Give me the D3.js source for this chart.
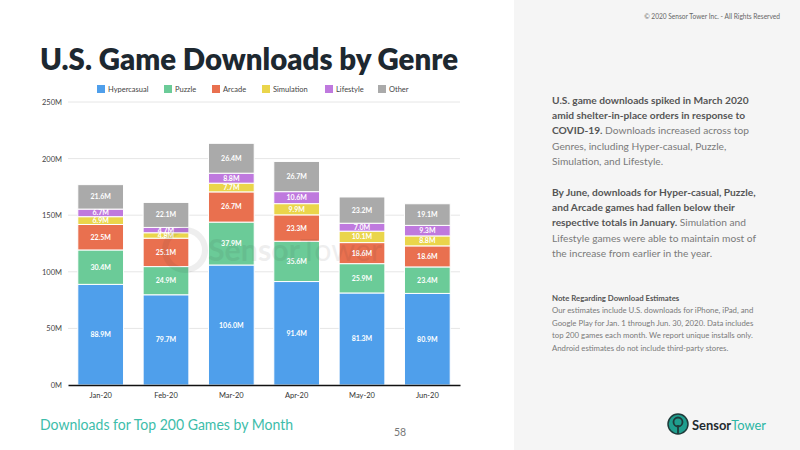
<!DOCTYPE html>
<html><head><meta charset="utf-8">
<script src="https://cdn.jsdelivr.net/npm/d3@7"></script>
<style>
body{margin:0;background:#fff;}
svg{display:block;font-family:Lato,"Open Sans",sans-serif;}
</style></head><body>
<svg id="c" width="800" height="450"></svg>
<script>
const months = ["Jan-20","Feb-20","Mar-20","Apr-20","May-20","Jun-20"];
const genres = ["Hypercasual","Puzzle","Arcade","Simulation","Lifestyle","Other"];
const colors = ["#4f9feb","#6bcb98","#e9704f","#ead54b","#bf79de","#aaaaaa"];
const hypercasual = [88.9,79.7,106.0,91.4,81.3,80.9];
const puzzle = [30.4,24.9,37.9,35.6,25.9,23.4];
const arcade = [22.5,25.1,26.7,23.3,18.6,18.6];
const simulation = [6.9,4.8,7.7,9.9,10.1,8.8];
const lifestyle = [6.7,4.7,8.8,10.6,7.0,9.3];
const other = [21.6,22.1,26.4,26.7,23.2,19.1];
const yTicks = [0,50,100,150,200,250];

const seriesVals = [hypercasual,puzzle,arcade,simulation,lifestyle,other];
const rows = months.map((m,i)=>{const r={month:m};genres.forEach((g,j)=>r[g]=seriesVals[j][i]);return r;});
const stack = d3.stack().keys(genres)(rows);

const svg = d3.select("#c");
// right panel
svg.append("rect").attr("x",514).attr("y",0).attr("width",286).attr("height",450).attr("fill","#f5f5f5");
svg.append("text").attr("x",780).attr("y",19).attr("text-anchor","end").attr("font-size",6.6).attr("fill","#666").text("© 2020 Sensor Tower Inc. - All Rights Reserved");

// title
svg.append("text").attr("x",40).attr("y",70).attr("font-size",31).attr("font-weight",800).attr("fill","#1d2830")
  .attr("textLength",418).attr("lengthAdjust","spacingAndGlyphs").text("U.S. Game Downloads by Genre");

const x = d3.scaleBand().domain(months).range([68,460]).paddingInner(0.3).paddingOuter(0.15);
const y = d3.scaleLinear().domain([0,250]).range([385,102]);

// gridlines
svg.append("g").selectAll("line").data(yTicks.filter(t=>t>0)).join("line")
  .attr("x1",68).attr("x2",460).attr("y1",d=>y(d)).attr("y2",d=>y(d)).attr("stroke","#e6e6e6").attr("stroke-width",1);

// y axis
const ya = svg.append("g").attr("transform","translate(68,0)")
  .call(d3.axisLeft(y).tickValues(yTicks).tickFormat(d=>d+"M").tickSize(0).tickPadding(6));
ya.select(".domain").remove();
ya.selectAll("text").attr("font-size",7.5).attr("fill","#444").attr("font-family","Lato,sans-serif");

// bars
const g = svg.append("g");
stack.forEach((s,j)=>{
  g.append("g").selectAll("rect").data(s).join("rect")
    .attr("x",d=>x(d.data.month)).attr("width",x.bandwidth())
    .attr("y",d=>y(d[1])).attr("height",d=>y(d[0])-y(d[1]))
    .attr("fill",colors[j]).attr("stroke","#fff").attr("stroke-width",1);
});
stack.forEach((s,j)=>{
  g.append("g").selectAll("text").data(s).join("text")
    .attr("x",d=>x(d.data.month)+x.bandwidth()/2)
    .attr("y",d=>(y(d[0])+y(d[1]))/2+2.5)
    .attr("text-anchor","middle").attr("font-size",7).attr("font-weight",700).attr("fill","#fff")
    .text(d=>(d[1]-d[0]).toFixed(1)+"M");
});

// watermark (on top, faint)
const wm = svg.append("g").attr("opacity",0.08).attr("pointer-events","none");
wm.append("circle").attr("cx",185).attr("cy",250).attr("r",20).attr("fill","none").attr("stroke","#333").attr("stroke-width",6);
wm.append("text").attr("x",208).attr("y",261).attr("font-size",30).attr("font-weight",700).attr("fill","#333")
  .attr("textLength",174).attr("lengthAdjust","spacingAndGlyphs").text("Sensor")
  .append("tspan").attr("font-weight",400).text("Tower");

// x axis
const xa = svg.append("g").attr("transform","translate(0,385)")
  .call(d3.axisBottom(x).tickSize(0).tickPadding(8));
xa.select(".domain").attr("stroke","#111").attr("stroke-width",1.5);
xa.selectAll("text").attr("font-size",7.5).attr("fill","#333").attr("font-family","Lato,sans-serif");

// legend
const legX = [97,164,212,262,325,378];
const lg = svg.append("g").selectAll("g").data(genres).join("g").attr("transform",(d,i)=>`translate(${legX[i]},85)`);
lg.append("rect").attr("width",8).attr("height",8).attr("fill",(d,i)=>colors[i]);
lg.append("text").attr("x",11).attr("y",7).attr("font-size",7.5).attr("fill","#444").text(d=>d);

// right text
function para(lines, x0, y0, lh, fs){
  lines.forEach((segs,i)=>{
    const t = svg.append("text").attr("x",x0).attr("y",y0+i*lh).attr("font-size",fs);
    segs.forEach(s=>t.append("tspan").attr("font-weight",s[1]?700:400).attr("fill",s[1]?"#555":"#7a7a7a").text(s[0]));
  });
}
para([
  [["U.S. game downloads spiked in March 2020",1]],
  [["amid shelter-in-place orders in response to",1]],
  [["COVID-19.",1],[" Downloads increased across top",0]],
  [["Genres, including Hyper-casual, Puzzle,",0]],
  [["Simulation, and Lifestyle.",0]]
],552,104,15.2,10.2);
para([
  [["By June, downloads for Hyper-casual, Puzzle,",1]],
  [["and Arcade games had fallen below their",1]],
  [["respective totals in January.",1],[" Simulation and",0]],
  [["Lifestyle games were able to maintain most of",0]],
  [["the increase from earlier in the year.",0]]
],552,196,15.2,10.2);
para([
  [["Note Regarding Download Estimates",1]],
  [["Our estimates include U.S. downloads for iPhone, iPad, and",0]],
  [["Google Play for Jan. 1 through Jun. 30, 2020. Data includes",0]],
  [["top 200 games each month. We report unique installs only.",0]],
  [["Android estimates do not include third-party stores.",0]]
],552,301,12.4,7.8);

// footer
svg.append("text").attr("x",40).attr("y",430).attr("font-size",14.5).attr("fill","#3dbdaa")
  .attr("textLength",253).attr("lengthAdjust","spacingAndGlyphs").text("Downloads for Top 200 Games by Month");
svg.append("text").attr("x",400).attr("y",436).attr("text-anchor","middle").attr("font-size",10.5).attr("fill","#777").text("58");

// logo
const lo = svg.append("g");
lo.append("circle").attr("cx",678).attr("cy",424).attr("r",10).attr("fill","#1f9e8e").attr("stroke","#1f3b3a").attr("stroke-width",1.5);
lo.append("circle").attr("cx",678).attr("cy",422).attr("r",4.5).attr("fill","none").attr("stroke","#1f3b3a").attr("stroke-width",1.8);
lo.append("line").attr("x1",678).attr("x2",678).attr("y1",425).attr("y2",434).attr("stroke","#1f3b3a").attr("stroke-width",1.8);
lo.append("text").attr("x",692).attr("y",430).attr("font-size",14).attr("font-weight",700).attr("fill","#1f2a2f")
  .attr("textLength",74).attr("lengthAdjust","spacingAndGlyphs").text("Sensor")
  .append("tspan").attr("font-weight",400).attr("fill","#2cb5a4").text("Tower");
</script>
</body></html>
